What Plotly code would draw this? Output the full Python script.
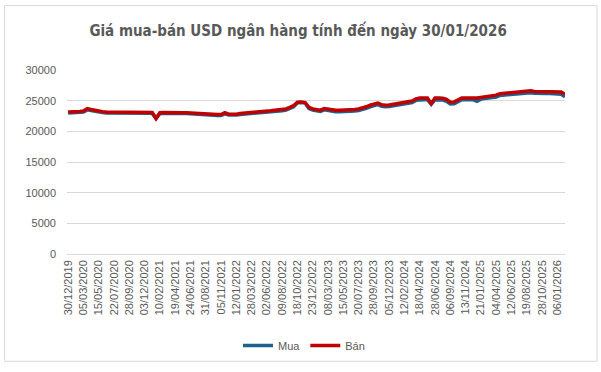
import plotly.graph_objects as go

# ---- data ----
dates = [
    "30/12/2019", "16/01/2020", "04/02/2020", "19/02/2020", "05/03/2020",
    "23/03/2020", "08/04/2020", "27/04/2020", "15/05/2020",
    "01/06/2020", "18/06/2020", "06/07/2020", "22/07/2020",
    "07/08/2020", "25/08/2020", "11/09/2020", "28/09/2020",
    "14/10/2020", "30/10/2020", "17/11/2020", "03/12/2020",
    "21/12/2020", "07/01/2021", "25/01/2021", "10/02/2021",
    "03/03/2021", "19/03/2021", "06/04/2021", "19/04/2021",
    "06/05/2021", "24/05/2021", "08/06/2021", "24/06/2021",
    "12/07/2021", "28/07/2021", "13/08/2021", "31/08/2021",
    "17/09/2021", "05/10/2021", "21/10/2021", "05/11/2021",
    "23/11/2021", "09/12/2021", "27/12/2021", "12/01/2022",
    "08/02/2022", "24/02/2022", "11/03/2022", "28/03/2022",
    "14/04/2022", "04/05/2022", "19/05/2022", "02/06/2022",
    "20/06/2022", "06/07/2022", "22/07/2022", "09/08/2022",
    "25/08/2022", "14/09/2022", "30/09/2022", "18/10/2022",
    "03/11/2022", "21/11/2022", "07/12/2022", "23/12/2022",
    "11/01/2023", "06/02/2023", "21/02/2023", "08/03/2023",
    "24/03/2023", "12/04/2023", "28/04/2023", "15/05/2023",
    "31/05/2023", "16/06/2023", "04/07/2023", "20/07/2023",
    "07/08/2023", "23/08/2023", "12/09/2023", "28/09/2023",
    "16/10/2023", "01/11/2023", "17/11/2023", "05/12/2023",
    "21/12/2023", "09/01/2024", "25/01/2024", "12/02/2024",
    "04/03/2024", "20/03/2024", "04/04/2024", "18/04/2024",
    "08/05/2024", "24/05/2024", "11/06/2024", "28/06/2024",
    "16/07/2024", "01/08/2024", "19/08/2024", "06/09/2024",
    "24/09/2024", "10/10/2024", "28/10/2024", "13/11/2024",
    "29/11/2024", "17/12/2024", "03/01/2025", "21/01/2025",
    "14/02/2025", "04/03/2025", "20/03/2025", "04/04/2025",
    "23/04/2025", "13/05/2025", "29/05/2025", "12/06/2025",
    "30/06/2025", "16/07/2025", "01/08/2025", "19/08/2025",
    "08/09/2025", "24/09/2025", "10/10/2025", "28/10/2025",
    "13/11/2025", "01/12/2025", "18/12/2025", "06/01/2026",
    "19/01/2026", "30/01/2026",
]

ban = [
    23150, 23150, 23200, 23250, 23300,
    23700, 23550, 23400, 23300,
    23200, 23150, 23150, 23150,
    23150, 23150, 23150, 23150,
    23150, 23150, 23150, 23120,
    23100, 23080, 22100, 23050,
    23080, 23100, 23120, 23100,
    23080, 23050, 23050, 23000,
    23000, 22950, 22850, 22850,
    22800, 22780, 22750, 22750,
    23050, 22800, 22780, 22800,
    22900, 22950, 23000, 23020,
    23050, 23150, 23200, 23300,
    23350, 23450, 23500, 23550,
    23650, 23900, 24200, 24750,
    24800, 24700, 23900, 23650,
    23550, 23450, 23700, 23600,
    23500, 23450, 23450, 23450,
    23480, 23500, 23550, 23650,
    23800, 24000, 24250, 24450,
    24600, 24350, 24250, 24300,
    24400, 24500, 24600, 24650,
    24850, 24950, 25300, 25450,
    25450, 25450, 24550, 25450,
    25450, 25400, 25200, 24750,
    24800, 25200, 25450, 25450,
    25500, 25450, 25450, 25550,
    25650, 25750, 25800, 25900,
    26150, 26200, 26300, 26400,
    26400, 26450, 26550, 26600,
    26600, 26500, 26450, 26450,
    26450, 26450, 26450, 26450,
    26400, 26050,
]

mua = [
    23000, 23000, 23050, 23100, 23150,
    23500, 23400, 23250, 23150,
    23050, 23000, 23000, 23000,
    23000, 23000, 23000, 23000,
    23000, 23000, 23000, 22980,
    22950, 22930, 22100, 22900,
    22930, 22950, 22970, 22950,
    22930, 22900, 22900, 22850,
    22850, 22800, 22700, 22700,
    22650, 22630, 22600, 22600,
    22850, 22650, 22630, 22650,
    22750, 22800, 22850, 22870,
    22900, 22980, 23030, 23100,
    23150, 23250, 23300, 23350,
    23450, 23700, 24000, 24650,
    24700, 24600, 23700, 23450,
    23350, 23250, 23500, 23400,
    23250, 23200, 23200, 23200,
    23230, 23250, 23300, 23400,
    23550, 23750, 24000, 24200,
    24350, 24100, 24000, 24050,
    24150, 24250, 24350, 24400,
    24600, 24700, 25050, 25150,
    25150, 25150, 24400, 25150,
    25150, 25100, 24900, 24450,
    24500, 24900, 25150, 25150,
    25200, 25150, 24900, 25250,
    25350, 25450, 25500, 25600,
    25850, 25900, 26000, 26100,
    26100, 26150, 26250, 26300,
    26300, 26200, 26150, 26150,
    26150, 26150, 26150, 26150,
    26050, 25650,
]

tick_labels = [
    "30/12/2019", "05/03/2020", "15/05/2020", "22/07/2020", "28/09/2020",
    "03/12/2020", "10/02/2021", "19/04/2021", "24/06/2021", "31/08/2021",
    "05/11/2021", "12/01/2022", "28/03/2022", "02/06/2022", "09/08/2022",
    "18/10/2022", "23/12/2022", "08/03/2023", "15/05/2023", "20/07/2023",
    "28/09/2023", "05/12/2023", "12/02/2024", "18/04/2024", "28/06/2024",
    "06/09/2024", "13/11/2024", "21/01/2025", "04/04/2025", "12/06/2025",
    "19/08/2025", "28/10/2025", "06/01/2026",
]

y_ticks = [0, 5000, 10000, 15000, 20000, 25000, 30000]
y_tick_text = ["0", "5000", "10000", "15000", "20000", "25000", "30000"]

# ---- figure ----
W, H = 601, 372
ML, MR, MT, MB = 67, 36, 70, 115
pw, ph = W - ML - MR, H - MT - MB

fig = go.Figure()
fig.add_trace(go.Scatter(x=dates, y=mua, name="Mua", mode="lines",
                         line=dict(color="#1F618D", width=3.5)))
fig.add_trace(go.Scatter(x=dates, y=ban, name="Bán", mode="lines",
                         line=dict(color="#C00000", width=3.5)))

grey = "#595959"
fig.update_layout(
    width=W, height=H,
    margin=dict(l=ML, r=MR, t=MT, b=MB),
    paper_bgcolor="white", plot_bgcolor="white",
    font=dict(family="Liberation Sans, Arial, sans-serif", size=11, color=grey),
    title=dict(text="Giá mua-bán USD ngân hàng tính đến ngày 30/01/2026",
               x=0.496, xref="container", xanchor="center",
               y=1 - 31 / H, yref="container", yanchor="middle",
               font=dict(family="DejaVu Sans Condensed, sans-serif",
                         size=15, color=grey, weight="bold")),
    showlegend=True,
    legend=dict(orientation="h", x=(304 - ML) / pw, xanchor="center",
                y=(MT + ph - 350) / ph, yanchor="middle",
                font=dict(size=11, color=grey), bgcolor="rgba(0,0,0,0)",
                itemwidth=30, tracegroupgap=0),
    xaxis=dict(type="category", categoryorder="array", categoryarray=dates,
               range=[-0.3, len(dates) - 1],
               tickmode="array", tickvals=tick_labels, ticktext=tick_labels,
               tickangle=-90, showgrid=False, zeroline=False, showline=False,
               ticks="", ticklabelstandoff=3,
               tickfont=dict(size=11, color=grey)),
    yaxis=dict(range=[0, 30000], tickmode="array", tickvals=y_ticks,
               ticktext=y_tick_text,
               showgrid=True, gridcolor="#D9D9D9", gridwidth=1,
               zeroline=True, zerolinecolor="#D9D9D9", zerolinewidth=1,
               showline=False, ticks="", ticklabelstandoff=10,
               tickfont=dict(size=11, color=grey)),
    shapes=[dict(type="rect", xref="paper", yref="paper",
                 x0=(4.5 - ML) / pw, x1=(597 - ML) / pw,
                 y0=(MT + ph - 366) / ph, y1=(MT + ph - 4.5) / ph,
                 line=dict(color="#D9D9D9", width=1), fillcolor="rgba(0,0,0,0)",
                 layer="below")],
)

fig.write_html("out.html")
